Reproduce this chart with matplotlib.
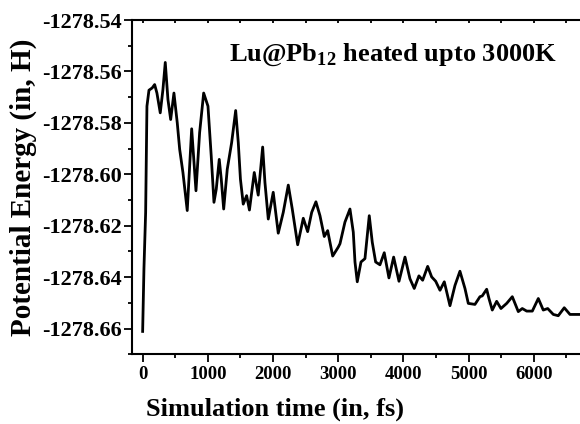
import matplotlib
matplotlib.use("Agg")
import matplotlib.pyplot as plt
from matplotlib.ticker import MultipleLocator, FormatStrFormatter

# Simulation time (fs) and potential energy (Hartree)
time_fs = [0, 20, 46, 66, 97, 147, 184, 219, 270, 311, 347, 388, 430, 480, 531, 568,
           618, 684, 752, 818, 874, 936, 1002, 1052, 1094, 1129, 1175, 1206, 1243,
           1298, 1365, 1427, 1467, 1500, 1543, 1595, 1638, 1712, 1773, 1841, 1876,
           1927, 2003, 2080, 2157, 2234, 2295, 2378, 2464, 2531, 2593, 2658, 2720,
           2786, 2838, 2915, 3001, 3027, 3103, 3180, 3231, 3257, 3292, 3349, 3410,
           3476, 3522, 3574, 3640, 3706, 3778, 3850, 3932, 4024, 4100, 4166, 4238,
           4295, 4372, 4433, 4495, 4561, 4627, 4714, 4791, 4867, 4944, 4995, 5097,
           5174, 5209, 5277, 5312, 5363, 5430, 5496, 5584, 5670, 5762, 5823, 5891,
           5977, 6069, 6145, 6213, 6299, 6375, 6467, 6555, 6708]
energy_H = [-1278.6611, -1278.6367, -1278.6148, -1278.5735, -1278.5673, -1278.5664,
            -1278.5651, -1278.5684, -1278.5761, -1278.5671, -1278.5565, -1278.5709,
            -1278.5787, -1278.5684, -1278.5800, -1278.5903, -1278.5993, -1278.6141,
            -1278.5823, -1278.6064, -1278.5838, -1278.5684, -1278.5735, -1278.5929,
            -1278.6109, -1278.6058, -1278.5942, -1278.6019, -1278.6135, -1278.5980,
            -1278.5877, -1278.5752, -1278.5877, -1278.6019, -1278.6116, -1278.6083,
            -1278.6139, -1278.5993, -1278.6081, -1278.5894, -1278.6032, -1278.6174,
            -1278.6070, -1278.6229, -1278.6148, -1278.6042, -1278.6135, -1278.6274,
            -1278.6171, -1278.6223, -1278.6148, -1278.6107, -1278.6161, -1278.6242,
            -1278.6219, -1278.6318, -1278.6283, -1278.6270, -1278.6186, -1278.6135,
            -1278.6225, -1278.6341, -1278.6418, -1278.6341, -1278.6328, -1278.6161,
            -1278.6264, -1278.6341, -1278.6352, -1278.6305, -1278.6403, -1278.6322,
            -1278.6416, -1278.6322, -1278.6406, -1278.6444, -1278.6395, -1278.6412,
            -1278.6358, -1278.6399, -1278.6416, -1278.6451, -1278.6418, -1278.6511,
            -1278.6432, -1278.6377, -1278.6444, -1278.6502, -1278.6506, -1278.6476,
            -1278.6473, -1278.6447, -1278.6483, -1278.6528, -1278.6494, -1278.6522,
            -1278.6502, -1278.6476, -1278.6534, -1278.6522, -1278.6532, -1278.6532,
            -1278.6483, -1278.6528, -1278.6522, -1278.6545, -1278.6550, -1278.6519,
            -1278.6545, -1278.6545]

x_ticks = [0, 1000, 2000, 3000, 4000, 5000, 6000]
y_ticks = [-1278.66, -1278.64, -1278.62, -1278.60, -1278.58, -1278.56, -1278.54]

plt.rcParams['font.family'] = ['Liberation Serif', 'DejaVu Serif']
plt.rcParams['font.weight'] = 'bold'
plt.rcParams['mathtext.fontset'] = 'custom'
plt.rcParams['mathtext.bf'] = 'Liberation Serif:bold'
plt.rcParams['mathtext.rm'] = 'Liberation Serif:bold'
plt.rcParams['axes.unicode_minus'] = False

fig = plt.figure(figsize=(5.8, 4.24), dpi=100)
ax = fig.add_axes([0.2284, 0.1644, 0.7766, 0.7884])

ax.plot(time_fs, energy_H, color='black', lw=2.0, solid_joinstyle='round')

ax.set_xlim(-156, 6753)
ax.set_ylim(-1278.67, -1278.54)
ax.set_xticks(x_ticks)
ax.set_yticks(y_ticks)
ax.xaxis.set_minor_locator(MultipleLocator(500))
ax.yaxis.set_minor_locator(MultipleLocator(0.01))
ax.yaxis.set_major_formatter(FormatStrFormatter('%.2f'))

for s in ax.spines.values():
    s.set_linewidth(1.5)
ax.spines['right'].set_visible(False)

ax.tick_params(axis='both', which='major', direction='out', length=5.5, width=1.3,
               top=False, right=False)
ax.tick_params(axis='both', which='minor', direction='out', length=3, width=1.3,
               top=False, right=False)
ax.tick_params(axis='x', which='major', labelsize=13.5, pad=3)
ax.tick_params(axis='y', which='major', labelsize=16, pad=2)
for lab in ax.get_xticklabels() + ax.get_yticklabels():
    lab.set_fontweight('bold')

# top axis: small inward ticks every 500 fs, no labels
ax_top = ax.twiny()
ax_top.set_xlim(ax.get_xlim())
ax_top.set_xticks(list(range(0, 7000, 500)))
ax_top.tick_params(axis='x', direction='in', length=2.5, width=1.3, labeltop=False)
for s in ax_top.spines.values():
    s.set_visible(False)

ax.set_xlabel('Simulation time (in, fs)', fontsize=19, fontweight='bold')
ax.xaxis.set_label_coords((275 - 132.5) / (0.7766 * 580), -0.128)
ax.set_ylabel('Potential Energy (in, H)', fontsize=21, fontweight='bold')
ax.yaxis.set_label_coords(-0.212, 0.5)

ax.text(0.215, 0.935, r'Lu@Pb$_{\mathbf{12}}$ heated upto 3000K', transform=ax.transAxes,
        fontsize=19, fontweight='bold', va='top', ha='left')

fig.savefig('out.png', dpi=100)
